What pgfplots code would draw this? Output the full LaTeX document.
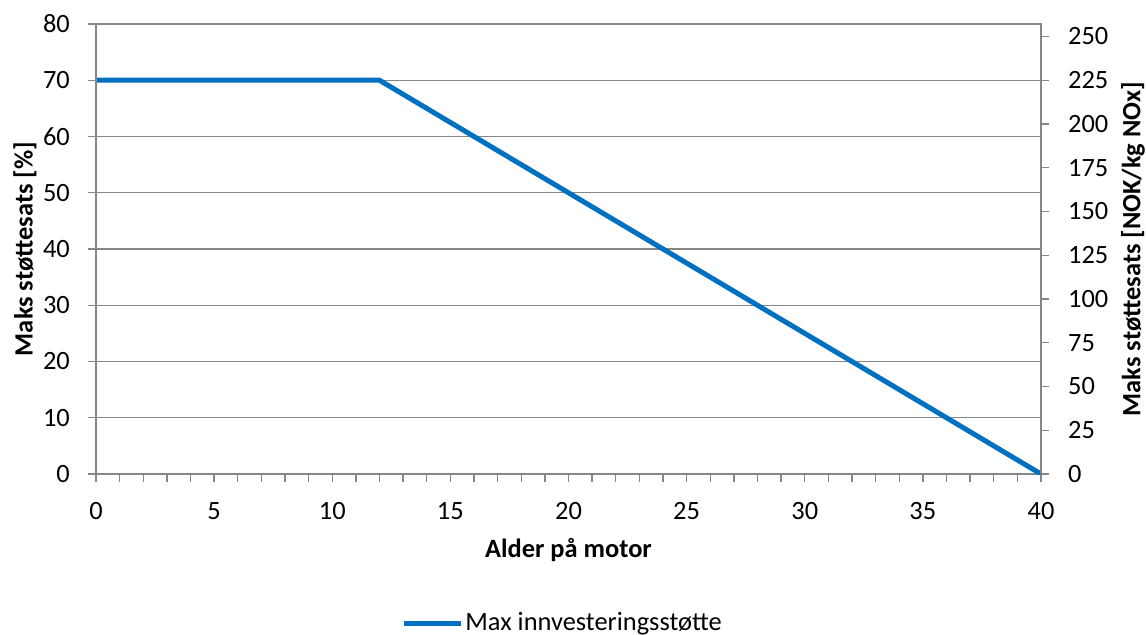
\documentclass[border=0pt]{standalone}
\usepackage{pgfplots}
\pgfplotsset{compat=1.18}
\usepackage{fontspec}
\setmainfont{Carlito}
\definecolor{lineblue}{RGB}{0,112,192}
\definecolor{axgray}{RGB}{134,134,134}
\newcommand{\chartfont}{\fontsize{13.2bp}{15bp}\selectfont}
\pgfplotsset{
  common/.style={
    at={(0,0)}, anchor=south west,
    scale only axis, width=472.5bp, height=225bp,
    xmin=0, xmax=40,
    axis line style={axgray, line width=0.7bp, -},
    every tick/.style={axgray, line width=0.7bp},
    tick align=outside,
    major tick length=4bp, minor tick length=4bp,
    /pgf/number format/assume math mode=true,
    tick label style={font=\chartfont},
    label style={font=\chartfont\bfseries},
  }
}
\begin{document}
\chartfont
\begin{tikzpicture}
\path[use as bounding box] (-48bp,-80.5bp) rectangle (525bp,237bp);
\begin{axis}[
  common,
  ymin=0, ymax=80,
  xtick={0,5,...,40}, minor x tick num=4,
  ytick={0,10,...,80},
  xtick pos=bottom, ytick pos=left,
  xticklabel style={yshift=-5.5bp},
  yticklabel style={xshift=-4.5bp},
  ymajorgrids, grid style={axgray, line width=0.7bp},
  xlabel={Alder på motor},
  ylabel={Maks støttesats [\%]},
  xlabel style={at={(axis description cs:0.5,-0.1689)}, anchor=center},
  ylabel style={at={(axis description cs:-0.0751,0.5)}, anchor=center},
  legend style={at={(axis description cs:0.4937,-0.333)}, anchor=center,
    draw=none, fill=none, inner sep=0pt,
    nodes={inner xsep=1bp},
    font=\chartfont},
  legend cell align=left,
  legend image code/.code={\draw[#1] (0bp,0bp) -- (28.5bp,0bp);},
]
\addplot[lineblue, line width=2.5bp] coordinates {(0,70) (12,70) (40,0)};
\legend{Max innvesteringsstøtte}
\end{axis}
\begin{axis}[
  common,
  ymin=0, ymax=257.142857,
  ytick={0,25,...,250},
  hide x axis,
  ytick pos=right, yticklabel pos=right,
  yticklabel style={xshift=5bp},
  ylabel={Maks støttesats [NOK/kg NOx]},
  ylabel style={at={(axis description cs:1.0974,0.5)}, anchor=center, rotate=0},
]
\end{axis}
\end{tikzpicture}
\end{document}
